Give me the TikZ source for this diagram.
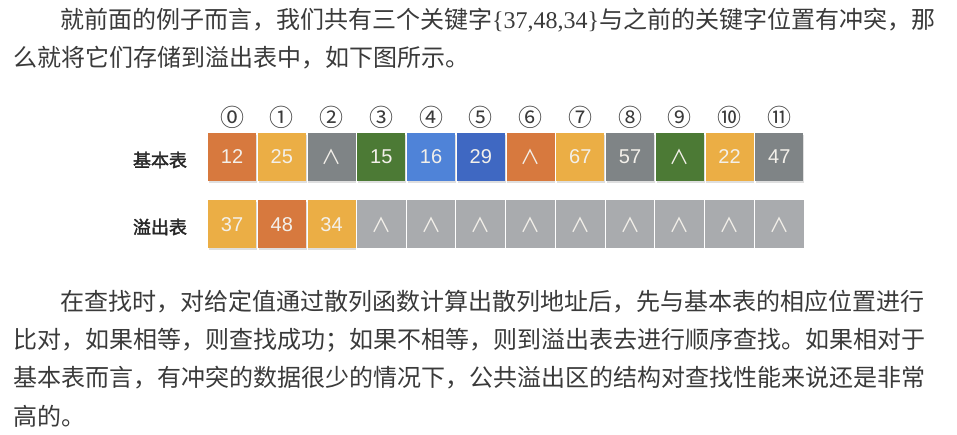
\documentclass[tikz,border=0pt]{standalone}
\usepackage{fontspec}
\usetikzlibrary{shadows}
\newfontfamily\cjk{Noto Sans CJK SC}
\newfontfamily\cjkbold[FakeBold=2]{Noto Sans CJK SC}
\newfontfamily\serifdig{Liberation Serif}
\newfontfamily\cellfont{Liberation Sans}
\newfontfamily\symfont{Noto Sans CJK SC}
\XeTeXlinebreaklocale "zh"
\XeTeXlinebreakskip=0pt plus 4pt
\definecolor{txt}{HTML}{3A3A3A}
\definecolor{corange}{HTML}{D7793E}
\definecolor{cgold}{HTML}{EBAE45}
\definecolor{cgray}{HTML}{7F8486}
\definecolor{cgreen}{HTML}{4C7A35}
\definecolor{cblueA}{HTML}{4F83D8}
\definecolor{cblueB}{HTML}{3F68C2}
\definecolor{clight}{HTML}{A9ABAE}
\definecolor{celltxt}{HTML}{F3F0EA}
\newcommand\andsym{{\symfont\fontsize{20}{20}\selectfont\char"2227}}
\begin{document}
\begin{tikzpicture}[x=1pt,y=-1pt,
  line/.style={anchor=west, inner sep=0pt, text=txt, font=\cjk\fontsize{24}{28}\selectfont},
  cellbox/.style={minimum width=48pt, minimum height=48pt, inner sep=0pt, text=celltxt,
    font=\cellfont\fontsize{20}{20}\selectfont},
  shadowed/.style={drop shadow={shadow xshift=0.8pt, shadow yshift=-1.6pt, opacity=0.25}},
  lightcell/.style={minimum width=48.8pt, minimum height=48pt, inner sep=0pt, text=celltxt, fill=clight},
  idx/.style={inner sep=0pt, text=txt, font=\symfont\fontsize{24}{24}\selectfont},
  rowlabel/.style={inner sep=0pt, text=black!85, font=\cjkbold\fontsize{18}{18}\selectfont}]
\useasboundingbox (0,0) rectangle (957,435);
\fill[white] (0,0) rectangle (957,435);

% paragraph 1
\node[line] (p1a) at (60,20) {\hbox to 868pt{就前面的例子而言，我们共有三个关键字{\serifdig\{37,48,34\}}与之前的关键字位置有冲突，那}};
\node[line] (p1b) at (13,58) {么就将它们存储到溢出表中，如下图所示。};

% index numbers
\foreach \i/\s in {0/24EA,1/2460,2/2461,3/2462,4/2463,5/2464,6/2465,7/2466,8/2467,9/2468,10/2469,11/246A}{
  \node[idx] (n\i) at ({232+49.75*\i},117) {\char"\s};
}

% row labels
\node[rowlabel] (lt) at (160,160) {基本表};
\node[rowlabel] (lb) at (160,227) {溢出表};

% basic table
\foreach \i/\v/\c in {0/12/corange,1/25/cgold,2/\andsym/cgray,3/15/cgreen,4/16/cblueA,5/29/cblueB,
  6/\andsym/corange,7/67/cgold,8/57/cgray,9/\andsym/cgreen,10/22/cgold,11/47/cgray}{
  \node[cellbox, shadowed, fill=\c] (t\i) at ({232+49.75*\i},157) {\v};
}

% overflow table
\foreach \i/\v/\c in {0/37/cgold,1/48/corange,2/34/cgold}{
  \node[cellbox, shadowed, fill=\c] (b\i) at ({232+49.75*\i},224.5) {\v};
}
\foreach \i in {3,...,11}{
  \node[lightcell] (b\i) at ({232+49.75*\i},224.5) {\andsym};
}

% paragraph 2
\node[line] (p2a) at (60,302) {\hbox to 868pt{在查找时，对给定值通过散列函数计算出散列地址后，先与基本表的相应位置进行}};
\node[line] (p2b) at (13,340) {\hbox to 915pt{比对，如果相等，则查找成功；如果不相等，则到溢出表去进行顺序查找。如果相对于}};
\node[line] (p2c) at (13,378) {\hbox to 915pt{基本表而言，有冲突的数据很少的情况下，公共溢出区的结构对查找性能来说还是非常}};
\node[line] (p2d) at (13,416) {高的。};
\end{tikzpicture}
\end{document}
